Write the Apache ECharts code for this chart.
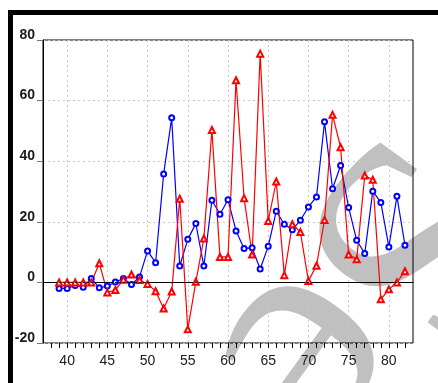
<!DOCTYPE html>
<html>
<head>
<meta charset="utf-8">
<script src="https://cdn.jsdelivr.net/npm/echarts@6/dist/echarts.min.js"></script>
<style>
  html, body { margin: 0; padding: 0; background: #fff; }
  #chart { width: 438px; height: 383px; }
</style>
</head>
<body>
<div id="chart"></div>
<script>
const years = [39, 40, 41, 42, 43, 44, 45, 46, 47, 48, 49, 50, 51, 52, 53, 54, 55, 56, 57, 58, 59, 60,
  61, 62, 63, 64, 65, 66, 67, 68, 69, 70, 71, 72, 73, 74, 75, 76, 77, 78, 79, 80, 81, 82];
const blueValues = [-2.0, -2.0, -1.0, -1.6, 1.3, -1.8, -1.2, 0.1, 1.3, -0.7, 1.8, 10.4, 6.5, 35.8, 54.3, 5.4,
  14.2, 19.4, 5.4, 27.1, 22.5, 27.3, 17.0, 11.2, 11.4, 4.4, 11.9, 23.5, 19.2, 17.4, 20.5, 24.9, 28.2, 53.0,
  30.9, 38.6, 24.7, 13.9, 9.5, 30.1, 26.4, 11.7, 28.4, 12.3];
const redValues = [0, 0, 0, 0, 0, 6.3, -3.3, -2.5, 0.9, 2.6, 0.8, -0.5, -2.9, -8.6, -3.0, 27.6, -15.5, 0.2,
  14.5, 50.3, 8.4, 8.4, 66.7, 27.8, 9.2, 75.5, 20.3, 33.3, 2.4, 19.2, 16.6, 0.5, 5.5, 20.6, 55.3, 44.6, 9.2,
  7.6, 35.3, 33.9, -5.6, -2.3, 0, 3.7];
const xLabels = [40, 45, 50, 55, 60, 65, 70, 75, 80];
const xMinorTicks = [38, 39, 40, 41, 42, 43, 44, 45, 46, 47, 48, 49, 50, 51, 52, 53, 54, 55, 56, 57, 58, 59, 60,
  61, 62, 63, 64, 65, 66, 67, 68, 69, 70, 71, 72, 73, 74, 75, 76, 77, 78, 79, 80, 81, 82];

const chart = echarts.init(document.getElementById('chart'));

const gridLine = { color: '#c8c8c8', type: [2, 3], width: 1 };
// faint grey watermark letters behind the plot
const watermark = { fill: '#c0c0c0', font: '300px "Liberation Serif"', textAlign: 'left', textVerticalAlign: 'middle' };

const option = {
  backgroundColor: '#fff',
  animation: false,
  grid: {
    left: 43, right: 25, top: 40, bottom: 40,
    show: true, borderColor: '#000', borderWidth: 1, backgroundColor: 'transparent'
  },
  xAxis: [
    {
      type: 'value', min: 37, max: 83,
      axisLine: { lineStyle: { color: '#000' } },
      axisTick: { show: false, customValues: xLabels },
      axisLabel: {
        customValues: xLabels, margin: 11,
        color: '#1a1a1a', fontFamily: 'Liberation Sans', fontSize: 14
      },
      splitLine: { show: true, lineStyle: gridLine }
    },
    {
      // minor ticks every unit
      type: 'value', min: 37, max: 83, position: 'bottom',
      axisLine: { show: false },
      axisTick: { show: true, customValues: xMinorTicks, length: 5, lineStyle: { color: '#000' } },
      axisLabel: { show: false },
      splitLine: { show: false }
    }
  ],
  yAxis: {
    type: 'value', min: -20, max: 80, interval: 20,
    axisLine: { show: true, lineStyle: { color: '#000' } },
    axisTick: { show: true, length: 6, lineStyle: { color: '#777' } },
    axisLabel: {
      margin: 8, verticalAlign: 'bottom', padding: [0, 0, -2, 0],
      color: '#1a1a1a', fontFamily: 'Liberation Sans', fontSize: 14, fontWeight: 'bold'
    },
    splitLine: { show: true, lineStyle: gridLine }
  },
  graphic: [
    { type: 'text', z: -10, x: 450, y: 168, rotation: -2.2, style: Object.assign({ text: 'Se' }, watermark) },
    { type: 'rect', shape: { x: 8, y: 10, width: 440, height: 5 }, style: { fill: '#000' } },
    { type: 'rect', shape: { x: 8, y: 10, width: 5, height: 380 }, style: { fill: '#000' } }
  ],
  series: [
    {
      type: 'line',
      data: years.map((y, i) => [y, blueValues[i]]),
      symbol: 'emptyCircle', symbolSize: 5,
      lineStyle: { color: '#0000ff', width: 1.2 },
      itemStyle: { color: '#0000ff', borderWidth: 1.2 },
      markLine: {
        silent: true, symbol: 'none', label: { show: false },
        lineStyle: { color: '#000', type: [2, 2], width: 1 },
        data: [{ yAxis: 0 }]
      }
    },
    {
      type: 'line',
      data: years.map((y, i) => [y, redValues[i]]),
      symbol: 'emptyTriangle', symbolSize: 6,
      lineStyle: { color: '#ff0000', width: 1.2 },
      itemStyle: { color: '#ff0000', borderWidth: 1.2 }
    }
  ]
};

chart.setOption(option);
</script>
</body>
</html>
